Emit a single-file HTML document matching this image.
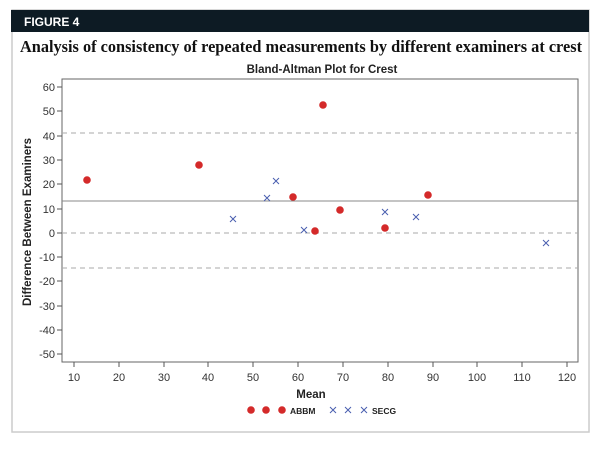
<!DOCTYPE html>
<html><head><style>
body{margin:0;background:#fff;width:600px;height:449px;overflow:hidden;font-family:"Liberation Sans",sans-serif}
</style></head><body>
<svg width="600" height="449" xmlns="http://www.w3.org/2000/svg" font-family="Liberation Sans, sans-serif">
<rect x="12" y="10" width="577" height="422" fill="#fff" stroke="#ccc" stroke-width="1.5"/>
<rect x="11" y="10" width="578" height="22" fill="#0d1b24"/>
<text x="24" y="26" fill="#fff" font-size="12" font-weight="bold">FIGURE 4</text>
<text x="20" y="52" textLength="562" lengthAdjust="spacingAndGlyphs" font-family="Liberation Serif, serif" font-weight="bold" font-size="17" fill="#111">Analysis of consistency of repeated measurements by different examiners at crest</text>
<text x="322" y="73" text-anchor="middle" font-size="11.5" font-weight="bold" fill="#222">Bland-Altman Plot for Crest</text>
<g id="plot">
<rect x="62" y="79" width="516" height="283" fill="none" stroke="#666" stroke-width="1"/>
<line x1="62" y1="133" x2="578" y2="133" stroke="#aaa" stroke-dasharray="5,4"/>
<line x1="62" y1="233" x2="578" y2="233" stroke="#aaa" stroke-dasharray="5,4"/>
<line x1="62" y1="268" x2="578" y2="268" stroke="#aaa" stroke-dasharray="5,4"/>
<line x1="62" y1="201" x2="578" y2="201" stroke="#888"/>
</g>
<g stroke="#555">
<line x1="57" y1="87" x2="62" y2="87"/><line x1="57" y1="111" x2="62" y2="111"/><line x1="57" y1="136" x2="62" y2="136"/><line x1="57" y1="160" x2="62" y2="160"/><line x1="57" y1="184" x2="62" y2="184"/><line x1="57" y1="209" x2="62" y2="209"/><line x1="57" y1="233" x2="62" y2="233"/><line x1="57" y1="257" x2="62" y2="257"/><line x1="57" y1="281" x2="62" y2="281"/><line x1="57" y1="306" x2="62" y2="306"/><line x1="57" y1="330" x2="62" y2="330"/><line x1="57" y1="354" x2="62" y2="354"/>
</g>
<g font-size="11" fill="#333" text-anchor="end">
<text x="55" y="91">60</text><text x="55" y="115">50</text><text x="55" y="140">40</text><text x="55" y="164">30</text><text x="55" y="188">20</text><text x="55" y="213">10</text><text x="55" y="237">0</text><text x="55" y="261">-10</text><text x="55" y="285">-20</text><text x="55" y="310">-30</text><text x="55" y="334">-40</text><text x="55" y="358">-50</text>
</g>
<g stroke="#555">
<line x1="74" y1="362" x2="74" y2="367"/><line x1="119" y1="362" x2="119" y2="367"/><line x1="164" y1="362" x2="164" y2="367"/><line x1="208" y1="362" x2="208" y2="367"/><line x1="253" y1="362" x2="253" y2="367"/><line x1="298" y1="362" x2="298" y2="367"/><line x1="343" y1="362" x2="343" y2="367"/><line x1="388" y1="362" x2="388" y2="367"/><line x1="433" y1="362" x2="433" y2="367"/><line x1="477" y1="362" x2="477" y2="367"/><line x1="522" y1="362" x2="522" y2="367"/><line x1="567" y1="362" x2="567" y2="367"/>
</g>
<g font-size="11" fill="#333" text-anchor="middle">
<text x="74" y="381">10</text><text x="119" y="381">20</text><text x="164" y="381">30</text><text x="208" y="381">40</text><text x="253" y="381">50</text><text x="298" y="381">60</text><text x="343" y="381">70</text><text x="388" y="381">80</text><text x="433" y="381">90</text><text x="477" y="381">100</text><text x="522" y="381">110</text><text x="567" y="381">120</text>
</g>
<text x="311" y="398" text-anchor="middle" font-size="11.5" font-weight="bold" fill="#222">Mean</text>
<text transform="translate(31,222) rotate(-90)" text-anchor="middle" font-size="11.5" font-weight="bold" fill="#222">Difference Between Examiners</text>
<g fill="#d42a2a">
<circle cx="87" cy="180" r="3.8"/><circle cx="199" cy="165" r="3.8"/><circle cx="293" cy="197" r="3.8"/><circle cx="315" cy="231" r="3.8"/><circle cx="323" cy="105" r="3.8"/><circle cx="340" cy="210" r="3.8"/><circle cx="385" cy="228" r="3.8"/><circle cx="428" cy="195" r="3.8"/>
<circle cx="251" cy="410" r="3.8"/><circle cx="266" cy="410" r="3.8"/><circle cx="282" cy="410" r="3.8"/>
</g>
<g stroke="#4a5fb0" stroke-width="1" fill="none">
<path d="M230 216l6 6M236 216l-6 6"/><path d="M264 195l6 6M270 195l-6 6"/><path d="M273 178l6 6M279 178l-6 6"/><path d="M301 227l6 6M307 227l-6 6"/><path d="M382 209l6 6M388 209l-6 6"/><path d="M413 214l6 6M419 214l-6 6"/><path d="M543 240l6 6M549 240l-6 6"/>
<path d="M330 407l6 6M336 407l-6 6"/><path d="M345 407l6 6M351 407l-6 6"/><path d="M361 407l6 6M367 407l-6 6"/>
</g>
<text x="290" y="414" font-size="8.5" font-weight="bold" fill="#222">ABBM</text>
<text x="372" y="414" font-size="8.5" font-weight="bold" fill="#222">SECG</text>
</svg>
</body></html>
